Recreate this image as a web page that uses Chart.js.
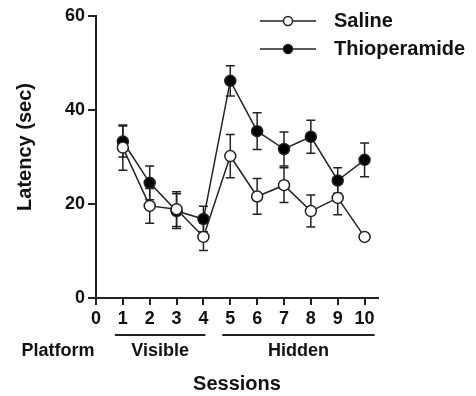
<!DOCTYPE html>
<html lang="en">
<head>
<meta charset="UTF-8">
<title>Latency by session</title>
<script src="https://cdn.jsdelivr.net/npm/chart.js"></script>
<style>
  html, body { margin: 0; padding: 0; background: #fff; }
</style>
</head>
<body>
<canvas id="latencyChart" width="476" height="396"></canvas>
<script>
    const sessions = [1, 2, 3, 4, 5, 6, 7, 8, 9, 10];
    const salineMean = [32.0, 19.6, 18.9, 13.0, 30.2, 21.6, 24.0, 18.5, 21.3, 13.0];
    const salineSem = [4.8, 3.7, 3.7, 2.9, 4.6, 3.8, 3.7, 3.4, 3.6, 0.6];
    const thioMean = [33.3, 24.5, 18.5, 16.8, 46.2, 35.5, 31.7, 34.3, 25.0, 29.4];
    const thioSem = [3.3, 3.6, 3.7, 2.7, 3.2, 3.9, 3.6, 3.5, 2.7, 3.6];
    const xTicks = [0, 1, 2, 3, 4, 5, 6, 7, 8, 9, 10];
    const yTicks = [0, 20, 40, 60];
    const groupLabels = ["Visible", "Hidden"];
    const groupSessions = [[1, 4], [5, 10]];

    const INK = "#222";
    const FONT = "'Liberation Sans', Arial, sans-serif";

    function toPoints(means) {
        return sessions.map((s, i) => ({ x: s, y: means[i] }));
    }

    // error bars go under the markers so open circles hide the stem
    const errorBars = {
        id: "errorBars",
        beforeDatasetsDraw(chart) {
            const { ctx, scales: { x, y } } = chart;
            ctx.save();
            ctx.strokeStyle = INK;
            ctx.lineWidth = 1.5;
            chart.data.datasets.forEach(ds => {
                ds.data.forEach((p, i) => {
                    const err = ds.errors[i];
                    const px = x.getPixelForValue(p.x);
                    const top = y.getPixelForValue(p.y + err);
                    const bot = y.getPixelForValue(p.y - err);
                    ctx.beginPath();
                    ctx.moveTo(px, top); ctx.lineTo(px, bot);
                    ctx.moveTo(px - 4.5, top); ctx.lineTo(px + 4.5, top);
                    ctx.moveTo(px - 4.5, bot); ctx.lineTo(px + 4.5, bot);
                    ctx.stroke();
                });
            });
            ctx.restore();
        }
    };

    const annotations = {
        id: "annotations",
        afterDraw(chart) {
            const { ctx, scales: { x } } = chart;
            ctx.save();
            ctx.fillStyle = "#111";
            ctx.strokeStyle = INK;

            // y title
            ctx.save();
            ctx.translate(25, 147);
            ctx.rotate(-Math.PI / 2);
            ctx.font = `bold 20px ${FONT}`;
            ctx.textAlign = "center";
            ctx.textBaseline = "middle";
            ctx.fillText("Latency (sec)", 0, 0);
            ctx.restore();

            // legend
            ctx.font = `bold 20px ${FONT}`;
            ctx.textAlign = "left";
            ctx.textBaseline = "middle";
            chart.data.datasets.forEach((ds, i) => {
                const ly = 21 + i * 28;
                ctx.lineWidth = 1.5;
                ctx.beginPath();
                ctx.moveTo(260, ly); ctx.lineTo(316, ly);
                ctx.stroke();
                ctx.beginPath();
                ctx.arc(288, ly, 4.5, 0, Math.PI * 2);
                ctx.fillStyle = ds.pointBackgroundColor;
                ctx.fill();
                ctx.stroke();
                ctx.fillStyle = "#111";
                ctx.fillText(ds.label, 334, ly);
            });

            // platform groups under the axis
            ctx.font = `bold 18px ${FONT}`;
            ctx.textAlign = "center";
            ctx.fillText("Platform", 58, 351);
            const rightPad = [2, 10];
            groupLabels.forEach((label, i) => {
                const x0 = x.getPixelForValue(groupSessions[i][0]) - 8;
                const x1 = x.getPixelForValue(groupSessions[i][1]) + rightPad[i];
                ctx.lineWidth = 2;
                ctx.beginPath();
                ctx.moveTo(x0, 335); ctx.lineTo(x1, 335);
                ctx.stroke();
                ctx.fillText(label, (x0 + x1) / 2, 351);
            });

            ctx.font = `bold 20px ${FONT}`;
            ctx.fillText("Sessions", (chart.chartArea.left + chart.chartArea.right) / 2, 384);
            ctx.restore();
        }
    };

    new Chart(document.getElementById("latencyChart"), {
        type: "line",
        data: {
            datasets: [
                {
                    label: "Saline",
                    data: toPoints(salineMean),
                    errors: salineSem,
                    borderColor: INK,
                    borderWidth: 1.5,
                    pointRadius: 5.5,
                    pointBorderWidth: 1.5,
                    pointBorderColor: INK,
                    pointBackgroundColor: "#fff",
                    tension: 0
                },
                {
                    label: "Thioperamide",
                    data: toPoints(thioMean),
                    errors: thioSem,
                    borderColor: INK,
                    borderWidth: 1.5,
                    pointRadius: 5.5,
                    pointBorderWidth: 1.5,
                    pointBorderColor: INK,
                    pointBackgroundColor: "#000",
                    tension: 0
                }
            ]
        },
        options: {
            responsive: false,
            animation: false,
            layout: { padding: { left: 0, top: 16, right: 98, bottom: 0 } },
            plugins: { legend: { display: false }, tooltip: { enabled: false } },
            scales: {
                x: {
                    type: "linear",
                    min: 0,
                    max: 10.5,
                    afterBuildTicks: scale => { scale.ticks = xTicks.map(v => ({ value: v })); },
                    afterFit: scale => { scale.height = 98; },
                    border: { color: INK, width: 2 },
                    grid: { display: true, drawOnChartArea: false, drawTicks: true, tickLength: 7, color: INK, lineWidth: 2 },
                    ticks: { color: "#111", padding: 3, maxRotation: 0, font: { family: FONT, size: 18, weight: "bold" } }
                },
                y: {
                    min: 0,
                    max: 60,
                    afterBuildTicks: scale => { scale.ticks = yTicks.map(v => ({ value: v })); },
                    afterFit: scale => { scale.width = 96; },
                    border: { color: INK, width: 2 },
                    grid: { display: true, drawOnChartArea: false, drawTicks: true, tickLength: 8, color: INK, lineWidth: 2 },
                    ticks: { color: "#111", padding: 3, font: { family: FONT, size: 18, weight: "bold" } }
                }
            }
        },
        plugins: [errorBars, annotations]
    });
</script>
</body>
</html>
